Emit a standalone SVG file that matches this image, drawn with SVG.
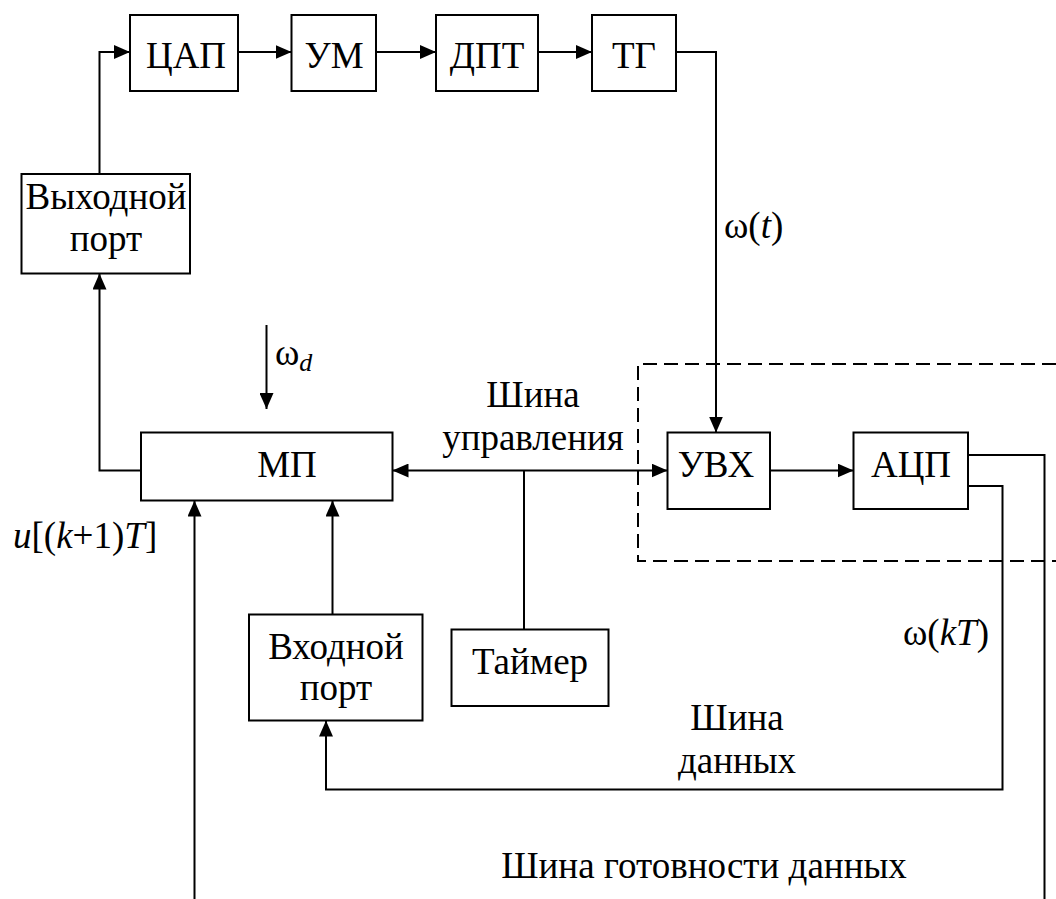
<svg xmlns="http://www.w3.org/2000/svg" width="1056" height="899" viewBox="0 0 1056 899">
<defs>
<marker id="arr" markerUnits="userSpaceOnUse" markerWidth="16" markerHeight="14" viewBox="0 0 16 14" refX="16" refY="7" orient="auto-start-reverse">
<path d="M0,0 L16,7 L0,14 Z" fill="#000"/>
</marker>
<style>
.box{fill:#fff;stroke:#000;stroke-width:2}
.ln{fill:none;stroke:#000;stroke-width:2}
.dash{fill:none;stroke:#000;stroke-width:2;stroke-dasharray:14 7}
text{font-family:'Liberation Serif','Times New Roman',serif;font-size:37px;fill:#000}
.c{text-anchor:middle}
.i{font-style:italic}
</style>
</defs>
<rect width="1056" height="899" fill="#fff"/>
<g id="dashed-frame">
<path class="dash" d="M1056,364 H638 V561 H1056"/>
</g>
<g id="connectors">
<path class="ln" d="M99.5,174 V52 H130" marker-end="url(#arr)"/>
<path class="ln" d="M238,52 H291.5" marker-end="url(#arr)"/>
<path class="ln" d="M376,52 H436" marker-end="url(#arr)"/>
<path class="ln" d="M538,52 H592" marker-end="url(#arr)"/>
<path class="ln" d="M676,52 H716 V432.5" marker-end="url(#arr)"/>
<path class="ln" d="M141,470.5 H99.5 V273.5" marker-end="url(#arr)"/>
<path class="ln" d="M266.5,325 V409" marker-end="url(#arr)"/>
<path class="ln" d="M392.5,470.5 H667.5" marker-start="url(#arr)" marker-end="url(#arr)"/>
<path class="ln" d="M524,470.5 V629.5"/>
<path class="ln" d="M332.5,614.5 V500.5" marker-end="url(#arr)"/>
<path class="ln" d="M770,470.5 H853.5" marker-end="url(#arr)"/>
<path class="ln" d="M968,455 H1044.5 V899"/>
<path class="ln" d="M194.5,899 V500.5" marker-end="url(#arr)"/>
<path class="ln" d="M968,486 H1002.5 V789.5 H326 V720.5" marker-end="url(#arr)"/>
</g>
<g id="cap"><rect class="box" x="130" y="15" width="108" height="76"/><text class="c" x="186" y="68">ЦАП</text></g>
<g id="um"><rect class="box" x="291.5" y="15" width="84.5" height="76"/><text class="c" x="334" y="68">УМ</text></g>
<g id="dpt"><rect class="box" x="436" y="15" width="102" height="76"/><text class="c" x="487" y="68">ДПТ</text></g>
<g id="tg"><rect class="box" x="592" y="15" width="84" height="76"/><text class="c" x="634" y="68">ТГ</text></g>
<g id="out-port"><rect class="box" x="21.5" y="174" width="168.5" height="99.5"/><text class="c" x="106" y="209">Выходной</text><text class="c" x="106" y="251">порт</text></g>
<g id="mp"><rect class="box" x="141" y="432.5" width="251.5" height="68"/><text class="c" x="287" y="477">МП</text></g>
<g id="uvh"><rect class="box" x="667.5" y="432.5" width="102.5" height="76.5"/><text class="c" x="716" y="477">УВХ</text></g>
<g id="adc"><rect class="box" x="853.5" y="432.5" width="114.5" height="76.5"/><text class="c" x="911" y="477">АЦП</text></g>
<g id="in-port"><rect class="box" x="249" y="614.5" width="173.5" height="106"/><text class="c" x="336" y="659">Входной</text><text class="c" x="336" y="700">порт</text></g>
<g id="timer"><rect class="box" x="451.5" y="629.5" width="157" height="76.5"/><text class="c" x="530" y="674">Таймер</text></g>
<g id="labels">
<text x="724" y="238">ω(<tspan class="i">t</tspan>)</text>
<text x="275" y="365">ω<tspan class="i" font-size="26" dy="6">d</tspan></text>
<text class="c" x="533" y="407">Шина</text>
<text class="c" x="533" y="450">управления</text>
<text x="13" y="548"><tspan class="i">u</tspan>[(<tspan class="i">k</tspan>+1)<tspan class="i">T</tspan>]</text>
<text x="903" y="645">ω(<tspan class="i">kT</tspan>)</text>
<text class="c" x="737" y="730">Шина</text>
<text class="c" x="737" y="773">данных</text>
<text class="c" x="704" y="878">Шина готовности данных</text>
</g>
</svg>
